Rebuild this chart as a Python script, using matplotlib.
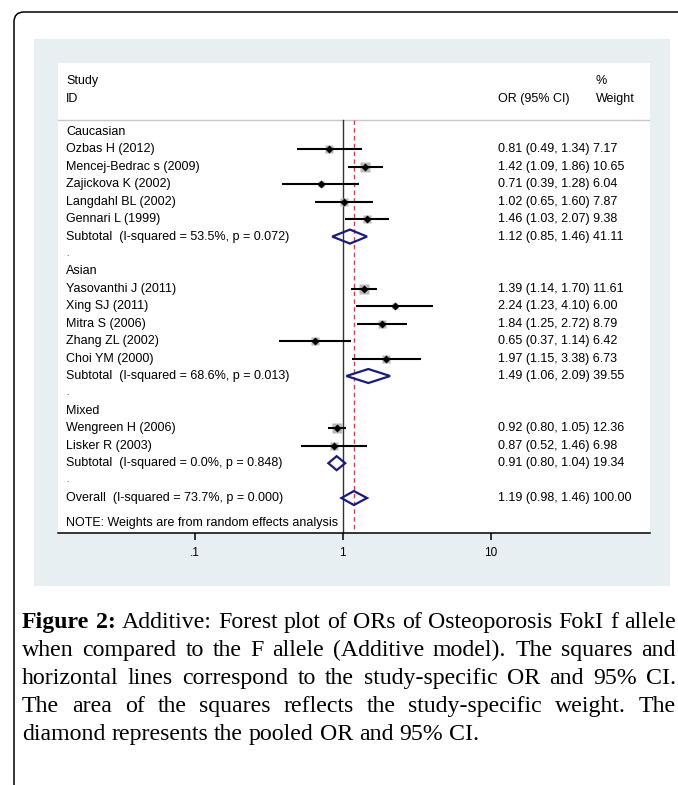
import matplotlib
matplotlib.use("Agg")
import matplotlib.pyplot as plt
import numpy as np
from matplotlib.patches import FancyBboxPatch, Rectangle, Polygon
from matplotlib.transforms import IdentityTransform, blended_transform_factory

# ---------------- data ----------------
group_names = ["Caucasian", "Asian", "Mixed"]

study_ids = ["Ozbas H (2012)", "Mencej-Bedrac s (2009)", "Zajickova K (2002)",
             "Langdahl BL (2002)", "Gennari L (1999)",
             "Yasovanthi J (2011)", "Xing SJ (2011)", "Mitra S (2006)",
             "Zhang ZL (2002)", "Choi YM (2000)",
             "Wengreen H (2006)", "Lisker R (2003)"]
study_group = [0, 0, 0, 0, 0, 1, 1, 1, 1, 1, 2, 2]
study_or = [0.81, 1.42, 0.71, 1.02, 1.46, 1.39, 2.24, 1.84, 0.65, 1.97, 0.92, 0.87]
study_lo = [0.49, 1.09, 0.39, 0.65, 1.03, 1.14, 1.23, 1.25, 0.37, 1.15, 0.80, 0.52]
study_hi = [1.34, 1.86, 1.28, 1.60, 2.07, 1.70, 4.10, 2.72, 1.14, 3.38, 1.05, 1.46]
study_w = [7.17, 10.65, 6.04, 7.87, 9.38, 11.61, 6.00, 8.79, 6.42, 6.73, 12.36, 6.98]

sub_labels = ["Subtotal  (I-squared = 53.5%, p = 0.072)",
              "Subtotal  (I-squared = 68.6%, p = 0.013)",
              "Subtotal  (I-squared = 0.0%, p = 0.848)"]
sub_or = [1.12, 1.49, 0.91]
sub_lo = [0.85, 1.06, 0.80]
sub_hi = [1.46, 2.09, 1.04]
sub_w = [41.11, 39.55, 19.34]

overall_label = "Overall  (I-squared = 73.7%, p = 0.000)"
overall_or, overall_lo, overall_hi, overall_w = 1.19, 0.98, 1.46, 100.00

tick_values = [0.1, 1, 10]
tick_labels = [".1", "1", "10"]

note_text = "NOTE: Weights are from random effects analysis"

caption_lines = [
    "Additive: Forest plot of ORs of Osteoporosis FokI f allele",
    "when compared to the F allele (Additive model). The squares and",
    "horizontal lines correspond to the study-specific OR and 95% CI.",
    "The area of the squares reflects the study-specific weight. The",
    "diamond represents the pooled OR and 95% CI.",
]

# ---------------- figure ----------------
W, H = 678, 785
fig = plt.figure(figsize=(W / 100, H / 100), dpi=100)
fig.patch.set_facecolor("white")

sans = ["Liberation Sans", "DejaVu Sans"]
serif = ["Liberation Serif", "DejaVu Serif"]

# outer rounded border (extends past right/bottom edges)
border = FancyBboxPatch((14, -60), 760, H - 12 + 60,
                        boxstyle="round,pad=0,rounding_size=10",
                        transform=IdentityTransform(), facecolor="none",
                        edgecolor="black", linewidth=1.1, zorder=-2)
fig.add_artist(border)

# light panel
panel = Rectangle((34, H - 586), 670 - 34, 586 - 39, transform=IdentityTransform(),
                  facecolor="#e8eff2", edgecolor="none", zorder=-1)
fig.add_artist(panel)

# plot axes = white region
ax_l, ax_r, ax_t, ax_b = 58, 650, 63, 533
ax = fig.add_axes([ax_l / W, 1 - ax_b / H, (ax_r - ax_l) / W, (ax_b - ax_t) / H])
ax.set_zorder(1)
ax.set_facecolor("white")
ax.set_xscale("log")
px1, dec = 342.7, 148.0
ax.set_xlim(10 ** ((ax_l - px1) / dec), 10 ** ((ax_r - px1) / dec))
ax.set_ylim(ax_b, ax_t)
for s in ["top", "left", "right"]:
    ax.spines[s].set_visible(False)
ax.spines["bottom"].set_linewidth(1.1)
ax.set_yticks([])
ax.set_xticks(tick_values)
ax.set_xticklabels(tick_labels, fontfamily=sans, fontsize=8.5)
ax.xaxis.set_minor_locator(matplotlib.ticker.NullLocator())
ax.tick_params(axis="x", length=5, width=1.1, pad=5)

tr = blended_transform_factory(ax.transAxes, ax.transData)


def fx(px):
    return (px - ax_l) / (ax_r - ax_l)


fs = 9
x_left, x_or, x_w = 66, 498, 596

# header
ax.text(fx(x_left), 81, "Study", transform=tr, fontsize=fs, family=sans, va="center")
ax.text(fx(x_left), 99, "ID", transform=tr, fontsize=fs, family=sans, va="center")
ax.text(fx(x_or), 99, "OR (95% CI)", transform=tr, fontsize=fs, family=sans, va="center")
ax.text(fx(x_w), 81, "%", transform=tr, fontsize=fs, family=sans, va="center")
ax.text(fx(x_w), 99, "Weight", transform=tr, fontsize=fs, family=sans, va="center")
ax.axhline(120, color="#c8c8c8", lw=1.0)

row0, dy = 132.0, 17.43
navy = "#1b1b7a"
k_sq = 2.85  # px per sqrt(weight)


def diamond(y, lo, mid, hi):
    xs = [lo, mid, hi, mid]
    ys = [y, y - 7, y, y + 7]
    p = Polygon(np.column_stack([xs, ys]), closed=True, facecolor="none",
                edgecolor=navy, lw=1.6, zorder=5)
    ax.add_patch(p)


row = 0
for g, gname in enumerate(group_names):
    y = row0 + dy * row
    ax.text(fx(x_left), y, gname, transform=tr, fontsize=fs, family=sans, va="center")
    row += 1
    for i in range(len(study_ids)):
        if study_group[i] != g:
            continue
        y = row0 + dy * row
        ax.text(fx(x_left), y, study_ids[i], transform=tr, fontsize=fs, family=sans, va="center")
        ax.text(fx(x_or), y, f"{study_or[i]:.2f} ({study_lo[i]:.2f}, {study_hi[i]:.2f}) {study_w[i]:.2f}",
                transform=tr, fontsize=fs, family=sans, va="center")
        side = k_sq * np.sqrt(study_w[i]) / 1.39
        ax.plot([study_or[i]], [y], marker="s", ms=side, color="#b9b9b9", mec="none", zorder=3)
        ax.plot([study_lo[i], study_hi[i]], [y, y], color="black", lw=1.5, zorder=4,
                solid_capstyle="butt")
        ax.plot([study_or[i]], [y], marker="D", ms=3.6, color="black", mec="none", zorder=5)
        row += 1
    y = row0 + dy * row
    ax.text(fx(x_left), y, sub_labels[g], transform=tr, fontsize=fs, family=sans, va="center")
    ax.text(fx(x_or), y, f"{sub_or[g]:.2f} ({sub_lo[g]:.2f}, {sub_hi[g]:.2f}) {sub_w[g]:.2f}",
            transform=tr, fontsize=fs, family=sans, va="center")
    diamond(y, sub_lo[g], sub_or[g], sub_hi[g])
    row += 1
    y = row0 + dy * row
    ax.text(fx(x_left), y, ".", transform=tr, fontsize=6, family=sans, va="center")
    row += 1

y = row0 + dy * row
ax.text(fx(x_left), y, overall_label, transform=tr, fontsize=fs, family=sans, va="center")
ax.text(fx(x_or), y, f"{overall_or:.2f} ({overall_lo:.2f}, {overall_hi:.2f}) {overall_w:.2f}",
        transform=tr, fontsize=fs, family=sans, va="center")
diamond(y, overall_lo, overall_or, overall_hi)

ax.text(fx(x_left), 523, note_text, transform=tr, fontsize=fs, family=sans, va="center")

# reference lines
ax.plot([1, 1], [120, ax_b], color="#333333", lw=1.0, zorder=2)
ax.plot([overall_or, overall_or], [120, ax_b], color="#c04a5a", lw=1.0,
        dashes=(3.2, 2.4), zorder=2)

# ---------------- caption (justified) ----------------
renderer = fig.canvas.get_renderer()
cap_fs = 17.2
cap_left, cap_right = 22, 676
baselines = [628, 656, 684, 712, 740]


def space_width():
    a = fig.text(0, 0, "a a", fontsize=cap_fs, family=serif)
    b = fig.text(0, 0, "aa", fontsize=cap_fs, family=serif)
    sw = a.get_window_extent(renderer).width - b.get_window_extent(renderer).width
    a.remove(); b.remove()
    return sw


SW = space_width()


def place_line(words, y_px, justify):
    arts = []
    for w, bold in words:
        t = fig.text(0, 0, w, fontsize=cap_fs, family=serif,
                     fontweight="bold" if bold else "normal",
                     va="baseline", ha="left", transform=IdentityTransform())
        arts.append(t)
    widths = [a.get_window_extent(renderer).width for a in arts]
    if justify and len(arts) > 1:
        gap = (cap_right - cap_left - sum(widths)) / (len(arts) - 1)
    else:
        gap = SW
    x = cap_left
    for a, wd in zip(arts, widths):
        a.set_position((x, H - y_px))
        x += wd + gap


for li, line in enumerate(caption_lines):
    words = [(w, False) for w in line.split(" ")]
    if li == 0:
        words = [("Figure", True), ("2:", True)] + words
    place_line(words, baselines[li], justify=(li < len(caption_lines) - 1))

fig.savefig("out.png", dpi=100)
